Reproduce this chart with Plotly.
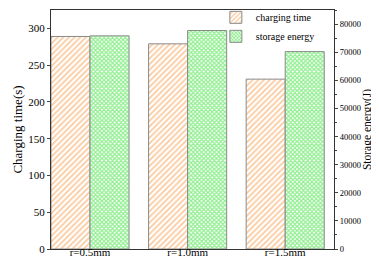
import plotly.graph_objects as go

categories = ["r=0.5mm", "r=1.0mm", "r=1.5mm"]
charging_time = [289, 279, 231]
storage_energy = [75800, 77700, 70200]

font = "Liberation Serif"
fig = go.Figure()
fig.add_trace(go.Bar(
    x=categories, y=charging_time, name="charging time", yaxis="y",
    offsetgroup="1",
    marker=dict(color="white", line=dict(color="#8a8a8a", width=1),
                pattern=dict(shape="/", fgcolor="#F5963F", bgcolor="white", size=4, solidity=0.45)),
))
fig.add_trace(go.Bar(
    x=categories, y=storage_energy, name="storage energy", yaxis="y2",
    offsetgroup="2",
    marker=dict(color="white", line=dict(color="#8a8a8a", width=1),
                pattern=dict(shape="x", fgcolor="#22DD22", bgcolor="white", size=3, solidity=0.65)),
))
fig.update_layout(
    width=379, height=259,
    margin=dict(l=43, r=53, t=2, b=18, autoexpand=False),
    plot_bgcolor="white", paper_bgcolor="white",
    barmode="group", bargap=0.2, bargroupgap=0,
    font=dict(family=font, size=11, color="black"),
    showlegend=True,
    legend=dict(x=0.95, y=1.03, xanchor="right", yanchor="top",
                bgcolor="rgba(0,0,0,0)", font=dict(size=10), tracegroupgap=0,
                itemwidth=30),
    xaxis=dict(range=[-0.4, 2.5], showline=True, linecolor="#333", linewidth=1,
               mirror=True, ticks="", tickfont=dict(size=11), ticklabelstandoff=-7),
    yaxis=dict(range=[0, 325], tickvals=list(range(0, 301, 50)), showline=True,
               linecolor="#333", linewidth=1, ticks="outside", ticklen=3,
               showgrid=False, title=dict(text="Charging time(s)", font=dict(size=13), standoff=2),
               tickfont=dict(size=11)),
    yaxis2=dict(range=[0, 85000], tickvals=list(range(0, 80001, 10000)), overlaying="y",
                side="right", showline=True, linecolor="#333", linewidth=1,
                ticks="outside", ticklen=3, showgrid=False, tickformat="d",
                minor=dict(ticks="outside", ticklen=2, dtick=5000),
                automargin=False, tickfont=dict(size=8.5),
                title=dict(text="Storage energy(J)", font=dict(size=11.5), standoff=0)),
)
fig.write_html("out.html")
